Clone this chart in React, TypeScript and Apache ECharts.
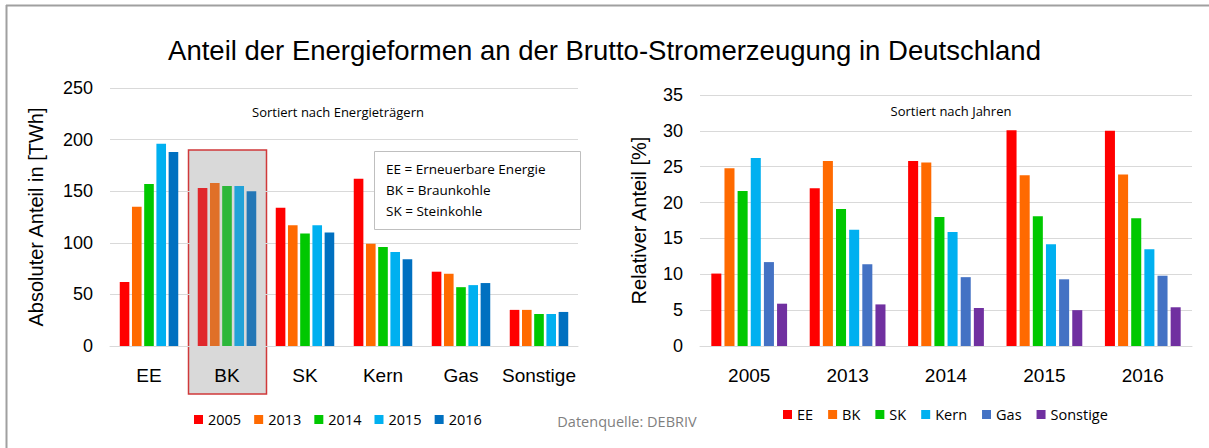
import React, { useEffect, useRef } from "react";
import * as echarts from "echarts";

const energyCats = ["EE", "BK", "SK", "Kern", "Gas", "Sonstige"];
const yearNames = ["2005", "2013", "2014", "2015", "2016"];
const yearColors = ["#ff0000", "#ff6a00", "#00c800", "#00b0f0", "#0070c0"];
const yearColorsMuted = ["#e0282c", "#e07028", "#2db73a", "#22a2d8", "#2477b6"];
// absolute TWh per energy form, one array per year
const abs2005 = [62, 153, 134, 162, 72, 35];
const abs2013 = [135, 158, 117, 99, 70, 35];
const abs2014 = [157, 155, 109, 96, 57, 31];
const abs2015 = [196, 155, 117, 91, 59, 31];
const abs2016 = [188, 150, 110, 84, 61, 33];
const absByYear = [abs2005, abs2013, abs2014, abs2015, abs2016];

const yearCats = ["2005", "2013", "2014", "2015", "2016"];
const formNames = ["EE", "BK", "SK", "Kern", "Gas", "Sonstige"];
const formColors = ["#ff0000", "#ff6a00", "#00c800", "#00b0f0", "#4472c4", "#7030a0"];
// relative share in % per year, one array per energy form
const relEE = [10.1, 22.0, 25.8, 30.1, 30.0];
const relBK = [24.8, 25.8, 25.6, 23.8, 23.9];
const relSK = [21.6, 19.1, 18.0, 18.1, 17.8];
const relKern = [26.2, 16.2, 15.9, 14.2, 13.5];
const relGas = [11.7, 11.4, 9.6, 9.3, 9.8];
const relSonst = [5.9, 5.8, 5.3, 5.0, 5.4];
const relByForm = [relEE, relBK, relSK, relKern, relGas, relSonst];

const absTicks = { min: 0, max: 250, interval: 50 };
const relTicks = { min: 0, max: 35, interval: 5 };

const W = 1209;
const H = 448;
const AX = "Liberation Sans, Arial, sans-serif";
const CAL = "Open Sans, Noto Sans, sans-serif";

export default function App() {
  const ref = useRef<HTMLDivElement>(null);
  useEffect(() => {
    document.body.style.margin = "0";
    const el = ref.current!;
    const chart = echarts.init(el, undefined, { renderer: "svg", width: W, height: H });

    const axisLabel = { color: "#000", fontSize: 18, fontFamily: AX };
    const splitLine = { show: true, lineStyle: { color: "#d9d9d9", width: 1 } };

    const leftSeries = yearNames.map((name, i) => ({
      name,
      type: "bar",
      xAxisIndex: 0,
      yAxisIndex: 0,
      barGap: "27%",
      barCategoryGap: "25%",
      itemStyle: { color: yearColors[i] },
      data: absByYear[i].map((v, j) =>
        energyCats[j] === "BK" ? { value: v, itemStyle: { color: yearColorsMuted[i] } } : v
      ),
    }));
    const rightSeries = formNames.map((name, i) => ({
      name,
      type: "bar",
      xAxisIndex: 1,
      yAxisIndex: 1,
      barGap: "31%",
      barCategoryGap: "23%",
      itemStyle: { color: formColors[i] },
      data: relByForm[i],
    }));

    const option: any = {
      animation: false,
      backgroundColor: "#fff",
      title: {
        text: "Anteil der Energieformen an der Brutto-Stromerzeugung in Deutschland",
        left: "center",
        top: 31,
        textStyle: { fontSize: 27.5, fontWeight: "normal", color: "#000", fontFamily: AX },
      },
      grid: [
        { left: 110, right: W - 578, top: 88, bottom: H - 346 },
        { left: 700, right: W - 1192, top: 95, bottom: H - 346 },
      ],
      xAxis: [
        {
          type: "category",
          gridIndex: 0,
          data: energyCats,
          axisLine: { lineStyle: { color: "#d9d9d9" } },
          axisTick: { show: false },
          axisLabel: { ...axisLabel, fontSize: 19, margin: 20, interval: 0 },
        },
        {
          type: "category",
          gridIndex: 1,
          data: yearCats,
          axisLine: { lineStyle: { color: "#d9d9d9" } },
          axisTick: { show: false },
          axisLabel: { ...axisLabel, fontSize: 19, margin: 20, interval: 0 },
        },
      ],
      yAxis: [
        {
          type: "value",
          gridIndex: 0,
          ...absTicks,
          name: "Absoluter Anteil in [TWh]",
          nameLocation: "middle",
          nameGap: 64,
          nameTextStyle: { fontSize: 20, color: "#000", fontFamily: AX },
          axisLine: { show: false },
          axisTick: { show: false },
          axisLabel: { ...axisLabel, margin: 17 },
          splitLine,
        },
        {
          type: "value",
          gridIndex: 1,
          ...relTicks,
          name: "Relativer Anteil [%]",
          nameLocation: "middle",
          nameGap: 51,
          nameTextStyle: { fontSize: 20, color: "#000", fontFamily: AX },
          axisLine: { show: false },
          axisTick: { show: false },
          axisLabel: { ...axisLabel, margin: 17 },
          splitLine,
        },
      ],
      legend: [
        {
          data: yearNames,
          left: 189,
          top: 407,
          icon: "rect",
          itemWidth: 9,
          itemHeight: 9,
          itemGap: 13,
          textStyle: { fontSize: 14.5, color: "#000", fontFamily: CAL },
        },
        {
          data: formNames,
          left: 778,
          top: 402,
          icon: "rect",
          itemWidth: 9,
          itemHeight: 9,
          itemGap: 15,
          textStyle: { fontSize: 14.5, color: "#000", fontFamily: CAL },
        },
      ],
      series: [...leftSeries, ...rightSeries],
    };
    chart.setOption(option);

    // BK highlight box derived from the axes
    const cx = chart.convertToPixel({ xAxisIndex: 0 }, "BK") as number;
    const cx2 = chart.convertToPixel({ xAxisIndex: 0 }, "SK") as number;
    const band = cx2 - cx;
    const yTop = chart.convertToPixel({ yAxisIndex: 0 }, 190) as number;
    const y0 = chart.convertToPixel({ yAxisIndex: 0 }, 0) as number;

    chart.setOption({
      graphic: [
        {
          type: "rect",
          z: -10,
          silent: true,
          shape: { x: cx - band / 2 + 0.5, y: yTop, width: band, height: y0 + 48 - yTop },
          style: { fill: "#d9d9d9", stroke: "#d0393a", lineWidth: 1.5 },
        },
        {
          type: "line",
          silent: true,
          shape: { x1: 6, y1: 5.5, x2: W, y2: 5.5 },
          style: { stroke: "#a0a0a0", lineWidth: 2 },
        },
        {
          type: "line",
          silent: true,
          shape: { x1: 6.5, y1: 5, x2: 6.5, y2: H },
          style: { stroke: "#a0a0a0", lineWidth: 2 },
        },
        {
          type: "text",
          silent: true,
          x: 338,
          y: 112,
          style: {
            text: "Sortiert nach Energieträgern",
            fill: "#000",
            fontSize: 13,
            fontFamily: CAL,
            align: "center",
            verticalAlign: "middle",
          },
        },
        {
          type: "text",
          silent: true,
          x: 951,
          y: 111,
          style: {
            text: "Sortiert nach Jahren",
            fill: "#000",
            fontSize: 13,
            fontFamily: CAL,
            align: "center",
            verticalAlign: "middle",
          },
        },
        {
          type: "rect",
          silent: true,
          shape: { x: 374.5, y: 151.5, width: 206, height: 78 },
          style: { fill: "#fff", stroke: "#bfbfbf", lineWidth: 1 },
        },
        {
          type: "text",
          silent: true,
          x: 386,
          y: 190,
          style: {
            text: "EE = Erneuerbare Energie\nBK = Braunkohle\nSK = Steinkohle",
            fill: "#000",
            fontSize: 13.5,
            lineHeight: 21,
            fontFamily: CAL,
            align: "left",
            verticalAlign: "middle",
          },
        },
        {
          type: "text",
          silent: true,
          x: 627,
          y: 421,
          style: {
            text: "Datenquelle: DEBRIV",
            fill: "#7f7f7f",
            fontSize: 14.5,
            fontFamily: CAL,
            align: "center",
            verticalAlign: "middle",
          },
        },
      ],
    });

    return () => chart.dispose();
  }, []);
  return <div ref={ref} style={{ width: W, height: H }} />;
}
